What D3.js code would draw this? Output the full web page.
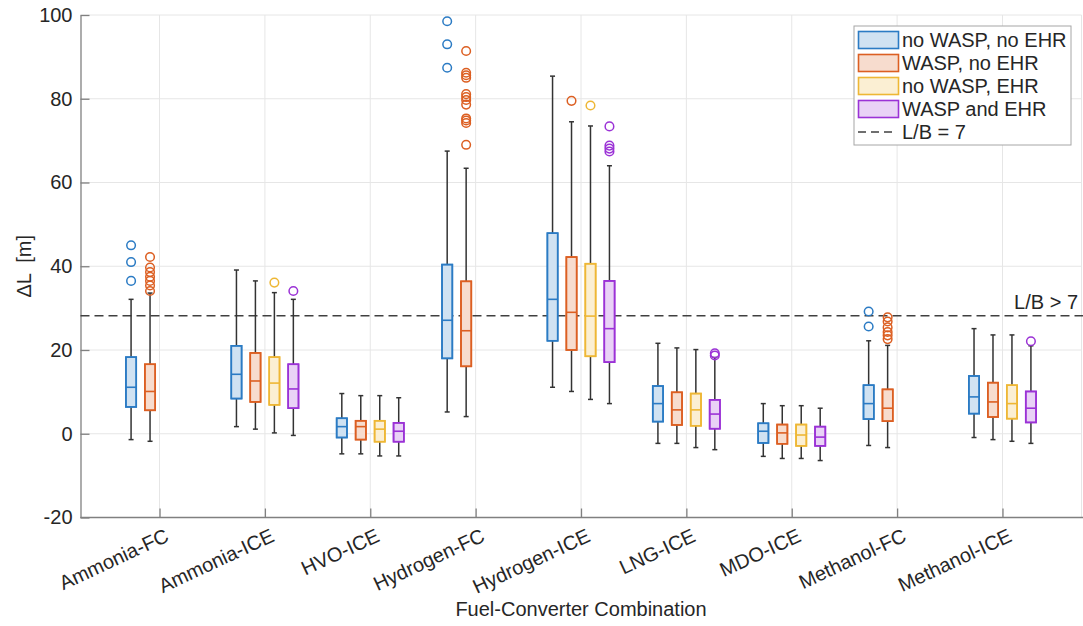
<!DOCTYPE html>
<html>
<head>
<meta charset="utf-8">
<script src="https://cdn.jsdelivr.net/npm/d3@7"></script>
<style>
  body { margin: 0; background: #fff; }
  svg { font-family: "Liberation Sans", Arial, sans-serif; }
  .tick text { fill: #262626; }
</style>
</head>
<body>
<svg id="chart" width="1083" height="626"></svg>
<script>
// data
const categories = ["Ammonia-FC", "Ammonia-ICE", "HVO-ICE", "Hydrogen-FC", "Hydrogen-ICE",
                    "LNG-ICE", "MDO-ICE", "Methanol-FC", "Methanol-ICE"];
const seriesNames = ["no WASP, no EHR", "WASP, no EHR", "no WASP, EHR", "WASP and EHR"];
const yTicks = [-20, 0, 20, 40, 60, 80, 100];
const lbLimit = 28.2;

// rows: [whisker low, q1, median, q3, whisker high], null = no box
const noWaspNoEhr = [
    [-1.4, 6.4, 11.1, 18.3, 32.1],
    [1.7, 8.4, 14.2, 21.0, 39.1],
    [-4.8, -0.9, 1.7, 3.7, 9.6],
    [5.2, 18.0, 27.1, 40.4, 67.5],
    [11.1, 22.2, 32.1, 47.9, 85.4],
    [-2.3, 2.9, 7.2, 11.4, 21.6],
    [-5.4, -2.2, 0.6, 2.5, 7.2],
    [-2.8, 3.5, 7.2, 11.6, 22.2],
    [-0.9, 4.8, 8.8, 13.8, 25.1]
];
const waspNoEhr = [
    [-1.8, 5.6, 10.1, 16.6, 33.6],
    [1.1, 7.6, 12.6, 19.3, 36.5],
    [-4.8, -1.4, 1.7, 3.1, 9.1],
    [4.1, 16.1, 24.6, 36.4, 63.4],
    [10.1, 20.0, 29.0, 42.2, 74.5],
    [-2.3, 2.1, 5.7, 9.9, 20.5],
    [-5.9, -2.4, 0.2, 2.2, 6.7],
    [-3.3, 3.0, 6.1, 10.6, 21.1],
    [-1.4, 4.0, 7.6, 12.2, 23.6]
];
const noWaspEhr = [
    null,
    [0.2, 6.9, 12.1, 18.3, 33.7],
    [-5.3, -1.9, 1.1, 3.1, 9.1],
    null,
    [8.2, 18.5, 28.1, 40.6, 73.5],
    [-3.3, 1.9, 5.7, 9.6, 20.1],
    [-5.9, -2.9, -0.3, 2.2, 6.7],
    null,
    [-1.8, 3.6, 7.2, 11.6, 23.6]
];
const waspEhr = [
    null,
    [-0.4, 6.1, 10.7, 16.6, 32.1],
    [-5.3, -1.9, 0.6, 2.6, 8.6],
    null,
    [7.2, 17.1, 25.1, 36.5, 64.0],
    [-3.8, 1.2, 4.7, 8.1, 18.2],
    [-6.4, -2.9, -0.8, 1.7, 6.1],
    null,
    [-2.3, 2.7, 6.1, 10.1, 21.0]
];

const outNoWaspNoEhr = [[45.0, 41.0, 36.5], [], [], [98.5, 93.0, 87.4], [], [], [], [29.2, 25.6], []];
const outWaspNoEhr = [
    [42.2, 39.7, 38.6, 37.5, 36.5, 35.4, 34.1], [], [],
    [91.4, 86.2, 85.6, 85.0, 81.1, 80.4, 79.7, 78.6, 75.3, 74.8, 74.2, 69.0],
    [79.5], [], [], [27.8, 26.8, 25.4, 24.3, 23.5, 22.6], []
];
const outNoWaspEhr = [[], [36.1], [], [], [78.4], [], [], [], []];
const outWaspEhr = [[], [34.1], [], [], [73.4, 68.8, 68.1, 67.4], [19.2, 18.7], [], [], [22.1]];

const colors = ["#2b7bc4", "#dc5f22", "#eeb735", "#9b32d6"];
const offsets = [-0.27, -0.09, 0.09, 0.27];

const stats = [noWaspNoEhr, waspNoEhr, noWaspEhr, waspEhr];
const outliers = [outNoWaspNoEhr, outWaspNoEhr, outNoWaspEhr, outWaspEhr];

const svg = d3.select("#chart");
const plot = { left: 80.5, right: 1081.5, top: 15, bottom: 517.5 };
const fs = 20;

const x = d3.scaleLinear().domain([0.25, 9.75]).range([plot.left, plot.right]);
const y = d3.scaleLinear().domain([-20, 100]).range([plot.bottom, plot.top]);

// grid
const grid = svg.append("g").attr("stroke", "#e6e6e6").attr("stroke-width", 1);
grid.selectAll(".hg").data(yTicks).join("line")
    .attr("x1", plot.left).attr("x2", plot.right)
    .attr("y1", d => y(d)).attr("y2", d => y(d));
grid.selectAll(".vg").data(categories).join("line")
    .attr("x1", (d, i) => x(i + 1)).attr("x2", (d, i) => x(i + 1))
    .attr("y1", plot.top).attr("y2", plot.bottom);
grid.append("line").attr("x1", plot.right).attr("x2", plot.right)
    .attr("y1", plot.top).attr("y2", plot.bottom);

// axes
const yAxis = svg.append("g")
    .attr("transform", `translate(${plot.left},0)`)
    .call(d3.axisLeft(y).tickValues(yTicks).tickSizeInner(-9).tickSizeOuter(0).tickPadding(8)
        .tickFormat(d => String(d)));
const xAxis = svg.append("g")
    .attr("transform", `translate(0,${plot.bottom})`)
    .call(d3.axisBottom(x).tickValues(d3.range(1, 10)).tickSizeInner(-9).tickSizeOuter(0)
        .tickFormat(d => categories[d - 1]));
[yAxis, xAxis].forEach(a => {
    a.select(".domain").attr("stroke", "#808080").attr("stroke-width", 1.3);
    a.selectAll(".tick line").attr("stroke", "#808080").attr("stroke-width", 1.3);
    a.selectAll(".tick text").attr("font-size", fs);
});
xAxis.select(".domain").attr("d", `M${plot.left},0H1083`);
xAxis.selectAll(".tick text")
    .attr("text-anchor", "end")
    .attr("transform", "translate(4,10) rotate(-25)")
    .attr("x", 0).attr("y", 0).attr("dy", "0.72em");

// L/B limit
svg.append("line")
    .attr("x1", plot.left).attr("x2", 1083)
    .attr("y1", y(lbLimit)).attr("y2", y(lbLimit))
    .attr("stroke", "#404040").attr("stroke-width", 1.5).attr("stroke-dasharray", "9,5");
svg.append("text")
    .attr("x", 1078).attr("y", y(lbLimit) - 7)
    .attr("text-anchor", "end").attr("font-size", fs).attr("fill", "#262626")
    .text("L/B > 7");

// boxes
const boxW = x(0.098) - x(0);
stats.forEach((series, s) => {
    const g = svg.append("g");
    const rows = series.map((d, i) => d ? { cat: i, v: d } : null).filter(d => d);
    const cx = d => x(d.cat + 1 + offsets[s]);

    g.selectAll(".whisker").data(rows).join("line")
        .attr("class", "whisker")
        .attr("x1", cx).attr("x2", cx)
        .attr("y1", d => y(d.v[0])).attr("y2", d => y(d.v[4]))
        .attr("stroke", "#333").attr("stroke-width", 1.5);
    [0, 4].forEach(k => {
        g.selectAll(".cap" + k).data(rows).join("line")
            .attr("class", "cap" + k)
            .attr("x1", d => cx(d) - 2.5).attr("x2", d => cx(d) + 2.5)
            .attr("y1", d => y(d.v[k])).attr("y2", d => y(d.v[k]))
            .attr("stroke", "#333").attr("stroke-width", 1.5);
    });
    g.selectAll(".box").data(rows).join("rect")
        .attr("class", "box")
        .attr("x", d => cx(d) - boxW / 2)
        .attr("width", boxW)
        .attr("y", d => y(d.v[3]))
        .attr("height", d => y(d.v[1]) - y(d.v[3]))
        .attr("fill", "#fff")
        .attr("stroke", colors[s]).attr("stroke-width", 1.6);
    g.selectAll(".boxfill").data(rows).join("rect")
        .attr("class", "boxfill")
        .attr("x", d => cx(d) - boxW / 2)
        .attr("width", boxW)
        .attr("y", d => y(d.v[3]))
        .attr("height", d => y(d.v[1]) - y(d.v[3]))
        .attr("fill", colors[s]).attr("fill-opacity", 0.22)
        .attr("stroke", colors[s]).attr("stroke-width", 1.6);
    g.selectAll(".median").data(rows).join("line")
        .attr("class", "median")
        .attr("x1", d => cx(d) - boxW / 2).attr("x2", d => cx(d) + boxW / 2)
        .attr("y1", d => y(d.v[2])).attr("y2", d => y(d.v[2]))
        .attr("stroke", colors[s]).attr("stroke-width", 1.6);

    const pts = [];
    outliers[s].forEach((list, i) => list.forEach(v => pts.push({ cat: i, v })));
    g.selectAll("circle").data(pts).join("circle")
        .attr("cx", cx).attr("cy", d => y(d.v)).attr("r", 4.3)
        .attr("fill", "none").attr("stroke", colors[s]).attr("stroke-width", 1.5);
});

// axis titles
svg.append("text")
    .attr("transform", `translate(31,${(plot.top + plot.bottom) / 2}) rotate(-90)`)
    .attr("text-anchor", "middle").attr("font-size", fs).attr("fill", "#262626")
    .style("white-space", "pre")
    .text("ΔL  [m]");
svg.append("text")
    .attr("x", 581).attr("y", 616)
    .attr("text-anchor", "middle").attr("font-size", fs).attr("fill", "#262626")
    .text("Fuel-Converter Combination");

// legend
const lg = svg.append("g").attr("transform", "translate(854,26)");
lg.append("rect").attr("width", 217).attr("height", 119)
    .attr("fill", "#fff").attr("stroke", "#a6a6a6").attr("stroke-width", 1);
const rowY = i => 14 + i * 23;
lg.selectAll(".sw").data(seriesNames).join("rect")
    .attr("class", "sw")
    .attr("x", 4.5).attr("y", (d, i) => rowY(i) - 8.5)
    .attr("width", 40).attr("height", 17)
    .attr("fill", (d, i) => colors[i]).attr("fill-opacity", 0.22)
    .attr("stroke", (d, i) => colors[i]).attr("stroke-width", 1.6);
lg.selectAll(".lt").data(seriesNames.concat(["L/B = 7"])).join("text")
    .attr("class", "lt")
    .attr("x", 48).attr("y", (d, i) => rowY(i)).attr("dy", "0.36em")
    .attr("font-size", fs).attr("fill", "#262626")
    .text(d => d);
lg.append("line")
    .attr("x1", 4).attr("x2", 42).attr("y1", rowY(4)).attr("y2", rowY(4))
    .attr("stroke", "#404040").attr("stroke-width", 1.5).attr("stroke-dasharray", "8,5");
</script>
</body>
</html>
